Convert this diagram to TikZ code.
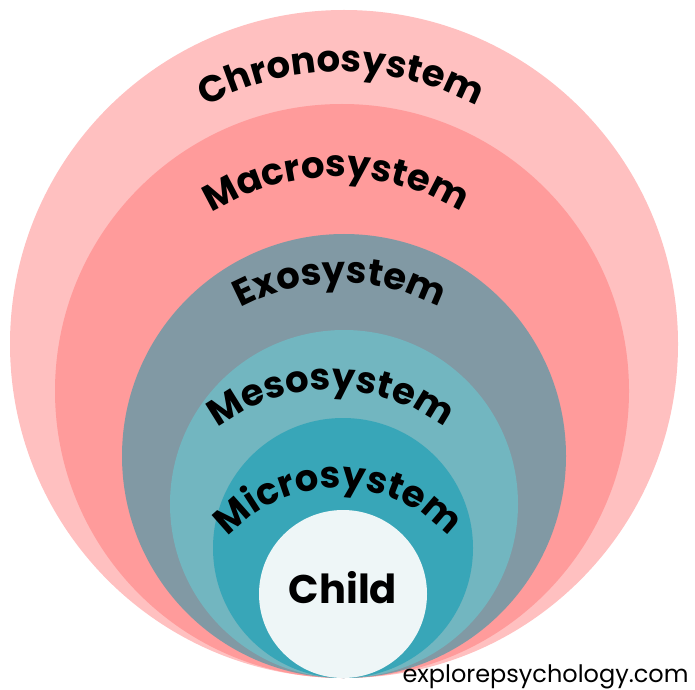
\documentclass[tikz,border=0pt]{standalone}
\usepackage{fontspec}
\setmainfont{Poppins}
\usetikzlibrary{decorations.text}
\definecolor{chrono}{RGB}{255,192,192}
\definecolor{macro}{RGB}{255,155,155}
\definecolor{exo}{RGB}{129,153,164}
\definecolor{meso}{RGB}{114,182,192}
\definecolor{micro}{RGB}{56,166,184}
\definecolor{childfill}{RGB}{238,246,247}
\tikzset{
  ringlabel/.style={decorate, decoration={text along path, text align=center,
    text={|\fontsize{37}{37}\selectfont\bfseries|#1}}}
}
\begin{document}
\begin{tikzpicture}[x=1pt,y=1pt]
\useasboundingbox (0,0) rectangle (695,689);
\fill[white] (0,0) rectangle (695,689);
\fill[chrono] (344,345) circle (334);
\fill[macro] (342,298) circle (287);
\fill[exo] (344,233) circle (222);
\fill[meso] (344,185) circle (174);
\fill[micro] (343,141) circle (130);
\node[circle, fill=childfill, minimum size=168pt, inner sep=0pt] (child) at (343,95) {};
\node[anchor=base, font=\fontsize{40}{40}\selectfont\bfseries] (childtext) at (343,86) {Child};
\path[ringlabel=Chronosystem] (341,332) ++(160:285) arc[start angle=160, end angle=20, radius=285];
\path[ringlabel=Macrosystem] (336,276) ++(160:236) arc[start angle=160, end angle=20, radius=236];
\path[ringlabel=Exosystem] (340,196) ++(160:210) arc[start angle=160, end angle=20, radius=210];
\path[ringlabel=Mesosystem] (331,112) ++(165:187) arc[start angle=165, end angle=15, radius=187];
\path[ringlabel=Microsystem] (338,53) ++(170:148) arc[start angle=170, end angle=10, radius=148];
\node[anchor=base east, font=\fontsize{24}{24}\selectfont] (site) at (692,7) {explorepsychology.com};
\end{tikzpicture}
\end{document}
